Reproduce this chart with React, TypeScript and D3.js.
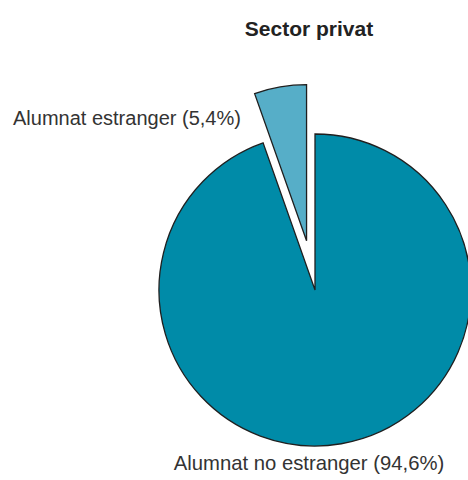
import { useEffect, useRef } from 'react'
import * as d3 from 'd3'

const categories = ['Alumnat no estranger', 'Alumnat estranger']
const values = [94.6, 5.4]
const labels = ['Alumnat no estranger (94,6%)', 'Alumnat estranger (5,4%)']
const colors = ['#008ba8', '#56aec8']
const exploded = [false, true]

const WIDTH = 468
const HEIGHT = 480

interface SliceDatum {
  name: string
  value: number
  color: string
  explode: boolean
}

export default function App() {
  const svgRef = useRef<SVGSVGElement | null>(null)

  useEffect(() => {
    if (!svgRef.current) {
      return
    }

    const svg = d3.select(svgRef.current)
    svg.selectAll('*').remove()

    const cx = 315
    const cy = 290
    const radius = 156
    const explodeOffset = 50

    const data: SliceDatum[] = categories.map((name, i) => ({
      name,
      value: values[i],
      color: colors[i],
      explode: exploded[i],
    }))

    const pie = d3
      .pie<SliceDatum>()
      .sort(null)
      .value((d) => d.value)

    const arc = d3
      .arc<d3.PieArcDatum<SliceDatum>>()
      .innerRadius(0)
      .outerRadius(radius)

    const root = svg.append('g').attr('transform', `translate(${cx}, ${cy})`)

    root
      .selectAll('path.slice')
      .data(pie(data))
      .enter()
      .append('path')
      .attr('class', 'slice')
      .attr('d', (d) => arc(d) ?? '')
      .attr('transform', (d) => {
        if (!d.data.explode) return null
        const mid = (d.startAngle + d.endAngle) / 2
        return `translate(${Math.sin(mid) * explodeOffset}, ${-Math.cos(mid) * explodeOffset})`
      })
      .attr('fill', (d) => d.data.color)
      .attr('stroke', '#1f1f1f')
      .attr('stroke-width', 1.3)
      .attr('stroke-linejoin', 'miter')

    svg
      .append('text')
      .attr('x', 309)
      .attr('y', 36)
      .attr('text-anchor', 'middle')
      .attr('font-family', 'Liberation Sans, Arial, sans-serif')
      .attr('font-size', 21)
      .attr('font-weight', 700)
      .attr('fill', '#222')
      .text('Sector privat')

    svg
      .append('text')
      .attr('x', 13)
      .attr('y', 125)
      .attr('font-family', 'Liberation Sans, Arial, sans-serif')
      .attr('font-size', 20)
      .attr('fill', '#333')
      .text(labels[1])

    svg
      .append('text')
      .attr('x', 309)
      .attr('y', 470)
      .attr('text-anchor', 'middle')
      .attr('font-family', 'Liberation Sans, Arial, sans-serif')
      .attr('font-size', 20.3)
      .attr('fill', '#333')
      .text(labels[0])
  }, [])

  return (
    <svg
      ref={svgRef}
      width={WIDTH}
      height={HEIGHT}
      viewBox={`0 0 ${WIDTH} ${HEIGHT}`}
      style={{ position: 'absolute', left: 0, top: 0, background: '#fff' }}
      role="img"
      aria-label="Sector privat pie chart"
    />
  )
}
